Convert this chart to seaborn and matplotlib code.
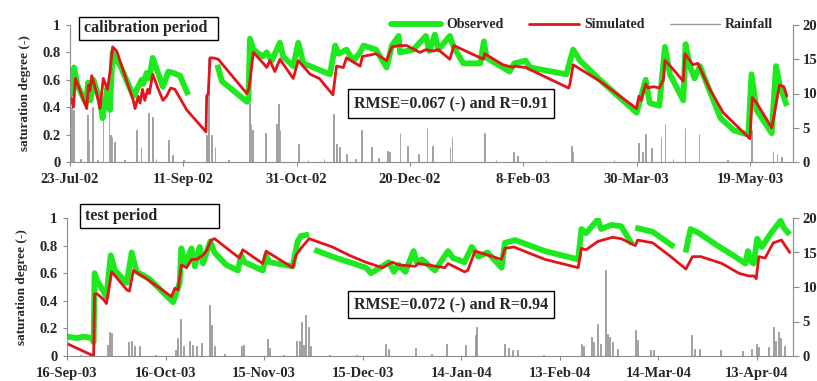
import numpy as np
import pandas as pd
import matplotlib
matplotlib.use("Agg")
import matplotlib.pyplot as plt
from matplotlib.lines import Line2D
from matplotlib.patches import Rectangle
import seaborn as sns

# ---------------- data (day offsets from period start) ----------------
cal_start = "2002-07-23"
test_start = "2003-09-16"

cal_sim_day = [0.4, 1.5, 2.4, 7.4, 8.1, 8.8, 9.6, 11.8, 13.2, 14.7, 16.5, 17.6, 18.8, 20.6, 27.9, 28.7,
               30.1, 30.9, 32, 33, 34.3, 35, 36.5, 39, 41, 42.6, 44.4, 46.3, 51.5, 60, 60.3, 61, 61.8,
               63.2, 65.4, 78, 79, 80.9, 85.3, 86.8, 88.2, 90.4, 92.6, 98.5, 100.7, 106, 110, 116,
               117.6, 120.6, 122, 128, 129, 135, 139.7, 142, 145.6, 148.5, 154.4, 157, 160, 162.5,
               167.6, 169.4, 182.4, 183, 191, 195.6, 196, 201, 220, 220.6, 222, 233.8, 250, 251, 252,
               254, 255, 257.4, 260, 261.8, 262.5, 265.4, 270.6, 271.3, 274.9, 277, 282, 288.2, 300,
               301, 303, 309.6, 311, 313, 315, 316.3]
cal_sim = [0.47, 0.40, 0.61, 0.39, 0.56, 0.52, 0.63, 0.50, 0.39, 0.61, 0.53, 0.65, 0.84, 0.81, 0.45, 0.39,
           0.48, 0.43, 0.53, 0.45, 0.53, 0.50, 0.64, 0.53, 0.45, 0.48, 0.54, 0.53, 0.38, 0.22, 0.48, 0.50, 0.76,
           0.76, 0.75, 0.50, 0.54, 0.80, 0.72, 0.69, 0.74, 0.66, 0.75, 0.61, 0.74, 0.64, 0.61, 0.49,
           0.70, 0.69, 0.76, 0.70, 0.77, 0.79, 0.74, 0.84, 0.85, 0.85, 0.80, 0.82, 0.81, 0.82,
           0.75, 0.85, 0.75, 0.79, 0.71, 0.69, 0.70, 0.69, 0.54, 0.57, 0.71, 0.59, 0.39, 0.48, 0.45,
           0.57, 0.54, 0.55, 0.54, 0.60, 0.74, 0.69, 0.59, 0.79, 0.71, 0.72, 0.54, 0.36, 0.17,
           0.47, 0.43, 0.25, 0.37, 0.56, 0.55, 0.48]

cal_obs_day = [0.4, 1.8, 3.3, 7, 8, 9, 10.3, 13.2, 14.4, 15.6, 16.5, 17.6, 18.8, 19.8, 22, 28, 31.6, 32.3,
               33.8, 35, 36.5, 38.2, 41, 43.4, 45.6, 48.5, 52.2, np.nan,
               65, 67, 78, 78.7, 79.4, 80.9, 85, 86.8, 89, 92.6, 94, 98.5, 100.7, 103, 114.7, 117,
               118.5, 122, 125, 128, 129.5, 135, 139.7, 142, 145, 145.6, 151.5, 157, 158.5, 161,
               162.5, 167.6, 169, 173.5, 181, 182.6, 183.8, 194, 196, 201, 203, 219, 222, 225, 233.8,
               250, 254, 255.8, 260, 262.5, 264.7, 270.6, 271.6, 273.5, 275.6, 277.9, 287, 293, 299.3,
               300.7, 302.9, 309.6, 311.5, 313.3, 316.3]
cal_obs = [0.48, 0.69, 0.56, 0.43, 0.58, 0.45, 0.60, 0.45, 0.32, 0.45, 0.54, 0.38, 0.80, 0.75, 0.71, 0.48, 0.60, 0.57,
           0.65, 0.61, 0.76, 0.68, 0.55, 0.66, 0.65, 0.63, 0.49, np.nan,
           0.71, 0.59, 0.44, 0.45, 0.90, 0.82, 0.77, 0.80, 0.74, 0.87, 0.77, 0.70, 0.87, 0.72, 0.64, 0.85,
           0.79, 0.82, 0.74, 0.80, 0.85, 0.82, 0.69, 0.85, 0.92, 0.80, 0.82, 0.92, 0.81, 0.93,
           0.82, 0.92, 0.85, 0.72, 0.72, 0.88, 0.76, 0.66, 0.72, 0.74, 0.69, 0.64, 0.82, 0.74, 0.60,
           0.36, 0.60, 0.43, 0.41, 0.84, 0.64, 0.45, 0.86, 0.70, 0.61, 0.70, 0.32, 0.23, 0.20,
           0.64, 0.38, 0.21, 0.70, 0.55, 0.41]

cal_rain_day = [0.7, 1.6, 4.5, 7.8, 8.4, 9.9, 12, 14.6, 17.2, 17.9, 18.6, 19.6, 24, 29.4, 31.3, 34.6, 36.3,
                38, 43.4, 45.1, 50, 60.3, 61.2, 62.5, 64, 70, 79.2, 79.8, 80.6, 86.2, 91, 92, 92.6,
                100.7, 105, 112, 116.3, 117.6, 119, 122, 126, 128.7, 133, 136, 140, 141, 145.6, 149,
                153.7, 157.5, 160, 167.6, 168.5, 183, 188, 195.6, 197.5, 210, 221.3, 222, 240, 250.7,
                252.5, 253.9, 256.6, 260.7, 262.5, 266, 271.3, 277.5, 290, 300.7, 310.2, 312, 314]
cal_rain = [8.1, 7.6, 0.4, 6.9, 3.2, 8.1, 0.3, 6.1, 9.1, 3.9, 3.7, 2.9, 0.3, 4.6, 2.2, 7.1, 6.6,
            0.4, 3.2, 1.0, 0.3, 3.9, 15.2, 3.9, 2.2, 0.3, 8.6, 5.6, 4.6, 4.2, 5.6, 8.4, 4.7,
            2.7, 0.3, 0.4, 7.0, 2.7, 2.2, 1.2, 0.5, 4.7, 2.2, 0.6, 1.6, 1.5, 4.2, 2.4,
            1.2, 5.0, 2.4, 2.2, 3.6, 4.2, 0.3, 1.5, 0.9, 0.3, 2.3, 1.6, 0.3, 2.8,
            1.5, 4.1, 2.0, 3.6, 5.5, 0.4, 5.0, 4.1, 0.3, 4.6, 1.6, 1.2, 0.8]

test_sim_day = [0, 8.1, 8.4, 9.2, 11.1, 12, 13.6, 18.2, 19, 20.2, 22.2, 24.2, 31.8, 32.8, 33.8, 34.8, 36.4,
                37.9, 39.4, 41.4, 42.4, 43.9, 44.9, 52.5, 53.5, 59.6, 60.6, 68.7, 69.7, 71.2, 73.7, 80.8,
                85.9, 90.9, 96, 99, 101, 106, 107, 115, 116, 121, 122, 124.2, 132.3, 133.3, 136, 145.5,
                155.6, 156.6, 158, 161.6, 166, 168.7, 173, 173.7, 178.3, 183.8, 188.4, 190.4, 193, 199.4,
                204.5, 207.5, 209.2, 209.8, 210.6, 212.5, 215, 217.5, 220]
test_sim = [0.09, 0.0, 0.45, 0.45, 0.41, 0.38, 0.61, 0.48, 0.47, 0.62, 0.59, 0.56, 0.43, 0.49, 0.48, 0.66, 0.64,
            0.70, 0.70, 0.73, 0.76, 0.84, 0.85, 0.71, 0.77, 0.67, 0.76, 0.64, 0.73, 0.78, 0.85, 0.79,
            0.73, 0.68, 0.64, 0.68, 0.66, 0.65, 0.67, 0.64, 0.67, 0.61, 0.62, 0.76, 0.70, 0.78, 0.79, 0.70,
            0.64, 0.78, 0.77, 0.83, 0.86, 0.85, 0.80, 0.84, 0.82, 0.72, 0.63, 0.72, 0.72, 0.67,
            0.60, 0.58, 0.58, 0.56, 0.72, 0.71, 0.82, 0.84, 0.75]

test_obs_day = [0, 3, 5, 7.6, 8.1, 8.4, 9.1, 12, 13.3, 14.6, 18.2, 19.7, 21.2, 25, 32.3, 34.3, 34.8, 35.8,
                37.9, 38.9, 40.4, 41.4, 43.6, 44.9, 48.5, 52, 53, 54, 59.6, 60.6, 61.6, 68.7, 70.2, 71.2,
                73.7, np.nan, 75.3, 80.8, 91, 92.5, 96, 98, 99.5, 101, 103, 105.5, 106.5, 108, 112, 116,
                117.5, 121, 123.2, 125.2, 128, 132.3, 133.3, 136.4, 145.5, 155.6, 156.6, 158, 161.6,
                162.6, 165.7, 168.7, 172, np.nan, 173, 178.3, 184.8, np.nan, 188.3, 189.8, 192.4, 198,
                203.4, 206.5, 207.3, 208, 209, 210.1, 211.5, 214.6, 217.2, 218.2, 220]
test_obs = [0.14, 0.13, 0.14, 0.13, 0.10, 0.60, 0.55, 0.43, 0.73, 0.62, 0.53, 0.75, 0.61, 0.56, 0.39, 0.53, 0.78, 0.66,
            0.78, 0.65, 0.79, 0.67, 0.83, 0.75, 0.66, 0.62, 0.73, 0.68, 0.62, 0.73, 0.68, 0.65, 0.83, 0.87,
            0.88, np.nan, 0.77, 0.72, 0.64, 0.60, 0.65, 0.68, 0.61, 0.66, 0.61, 0.76, 0.68, 0.70, 0.62, 0.76,
            0.71, 0.68, 0.79, 0.72, 0.75, 0.64, 0.82, 0.84, 0.76, 0.70, 0.92, 0.89, 0.99,
            0.92, 0.95, 0.94, 0.81, np.nan, 0.93, 0.90, 0.79, np.nan, 0.75, 0.92, 0.89, 0.80,
            0.72, 0.67, 0.76, 0.69, 0.67, 0.85, 0.79, 0.90, 0.98, 0.93, 0.88]

test_rain_day = [4, 12.2, 13, 13.6, 18.8, 19.5, 20.4, 22, 27, 33, 33.6, 34.6, 35.5, 37.2, 38.2, 39.4, 41,
                 43.5, 44.1, 45, 48, 53.1, 53.8, 60.9, 61.5, 66, 70, 70.7, 71.4, 72, 72.7, 73.4, 74, 80,
                 88, 97, 97.8, 106, 111, 115.5, 121.2, 124.3, 124.8, 133.3, 134.3, 135.5, 137, 145,
                 156.6, 157.3, 159.6, 160.4, 161.6, 162.3, 163.9, 164.6, 165.1, 166, 167.5, 173.2, 173.8,
                 177.5, 178.5, 190, 191, 192.5, 199, 205.6, 208.5, 209.8, 210.5, 213.5, 215, 215.8,
                 216.7, 217.3, 218.5]
test_rain = [0.2, 1.6, 3.5, 3.3, 2.0, 2.2, 1.4, 1.4, 0.2, 0.9, 2.6, 5.4, 1.5, 2.2, 1.6, 1.5, 1.9,
             7.4, 4.5, 1.5, 0.3, 1.4, 1.6, 2.5, 1.2, 0.2, 2.2, 2.2, 4.9, 1.6, 5.9, 4.2, 1.4, 0.2,
             0.2, 1.7, 1.0, 1.1, 0.3, 1.8, 1.6, 3.0, 4.2, 1.8, 1.1, 0.9, 0.9, 0.2,
             1.8, 1.5, 2.7, 2.0, 4.7, 1.8, 12.4, 3.2, 2.8, 2.0, 1.0, 3.7, 2.3,
             0.8, 0.8, 3.0, 1.0, 1.0, 0.8, 0.7, 1.0, 1.8, 1.3, 1.3, 4.2, 2.2,
             3.5, 2.6, 1.5]

cal_ticks = ["23-Jul-02", "11-Sep-02", "31-Oct-02", "20-Dec-02", "8-Feb-03", "30-Mar-03", "19-May-03"]
test_ticks = ["16-Sep-03", "16-Oct-03", "15-Nov-03", "15-Dec-03", "14-Jan-04", "13-Feb-04",
              "14-Mar-04", "13-Apr-04"]
cal_end = "2003-06-07"
test_end = "2004-04-24"
cal_text = "calibration period"
test_text = "test period"
cal_stats = "RMSE=0.067 (-) and R=0.91"
test_stats = "RMSE=0.072 (-) and R=0.94"

# ---------------- styling ----------------
sns.set_theme(style="white")
plt.rcParams["font.family"] = ["Liberation Serif", "DejaVu Serif"]
plt.rcParams["font.weight"] = "bold"

GREEN = "#1ee81e"
RED = "#e3141b"
GRAY = "#9a9a9a"
AX_GRAY = "#8c8c8c"
TICK_FS = 10.5

fig = plt.figure(figsize=(8.17, 3.81), dpi=100)
W, H = 817.0, 381.0


def fig_rect(x0, y0, x1, y1):
    return [x0 / W, 1 - y1 / H, (x1 - x0) / W, (y1 - y0) / H]


def to_dates(start, days):
    return pd.Timestamp(start) + pd.to_timedelta(np.asarray(days, dtype=float), unit="D")


def segments(days, vals):
    segs, cur_d, cur_v = [], [], []
    for d, v in zip(days, vals):
        if np.isnan(d) or np.isnan(v):
            if cur_d:
                segs.append((cur_d, cur_v))
            cur_d, cur_v = [], []
        else:
            cur_d.append(d)
            cur_v.append(v)
    if cur_d:
        segs.append((cur_d, cur_v))
    return segs


def panel(rect, start, end, obs_day, obs, sim_day, sim, rain_day, rain, tick_labels,
          tick_step, label_text, stats_text, label_box, stats_box, legend=False):
    ax = fig.add_axes(fig_rect(*rect))
    ax2 = ax.twinx()
    ax.set_zorder(ax2.get_zorder() + 1)
    ax.patch.set_visible(False)

    rd = to_dates(start, rain_day)
    ax2.bar(rd, rain, width=0.3, color=GRAY, linewidth=0.6, edgecolor=GRAY)

    for d, v in segments(obs_day, obs):
        sns.lineplot(x=to_dates(start, d), y=v, ax=ax, color=GREEN, linewidth=4.2,
                     estimator=None, sort=False, solid_capstyle="butt")
    sns.lineplot(x=to_dates(start, sim_day), y=sim, ax=ax, color=RED, linewidth=2.0,
                 estimator=None, sort=False)

    x0 = pd.Timestamp(start)
    ax.set_xlim(x0, pd.Timestamp(end))
    ax.set_ylim(0, 1)
    ax2.set_ylim(0, 20)
    ticks = [x0 + pd.Timedelta(days=tick_step * i) for i in range(len(tick_labels))]
    ax.set_xticks(ticks)
    ax.set_xticklabels(tick_labels, fontsize=TICK_FS, fontweight="bold")
    ax.set_yticks([0, 0.2, 0.4, 0.6, 0.8, 1])
    ax.set_yticklabels(["0", "0.2", "0.4", "0.6", "0.8", "1"], fontsize=TICK_FS, fontweight="bold")
    ax2.set_yticks([0, 5, 10, 15, 20])
    ax2.set_yticklabels(["0", "5", "10", "15", "20"], fontsize=TICK_FS, fontweight="bold")
    ax.set_ylabel("saturation degree (-)", fontsize=9.5, fontweight="bold", labelpad=8)
    ax.set_xlabel("")

    for a in (ax, ax2):
        a.spines["top"].set_visible(False)
        for s in ("left", "right", "bottom"):
            a.spines[s].set_color(AX_GRAY)
            a.spines[s].set_linewidth(0.8)
    ax.spines["right"].set_visible(False)
    ax2.spines["left"].set_visible(False)
    ax2.spines["bottom"].set_visible(False)
    ax.tick_params(axis="y", which="both", left=True, length=3, width=0.8, color=AX_GRAY, pad=4)
    ax.tick_params(axis="x", which="both", bottom=True, length=3, width=0.8, color=AX_GRAY, pad=5)
    ax2.tick_params(axis="y", which="both", right=True, length=4, width=0.8, color=AX_GRAY, pad=3)

    # period label box
    bx0, by0, bx1, by1 = label_box
    fig.patches.append(Rectangle((bx0 / W, 1 - by1 / H), (bx1 - bx0) / W, (by1 - by0) / H,
                                 transform=fig.transFigure, facecolor="white",
                                 edgecolor="black", linewidth=1.0, zorder=5))
    fig.text((bx0 + 5) / W, 1 - ((by0 + by1) / 2) / H, label_text, fontsize=11.5,
             fontweight="bold", va="center", ha="left", zorder=6)

    sx0, sy0, sx1, sy1 = stats_box
    fig.patches.append(Rectangle((sx0 / W, 1 - sy1 / H), (sx1 - sx0) / W, (sy1 - sy0) / H,
                                 transform=fig.transFigure, facecolor="white",
                                 edgecolor="black", linewidth=1.0, zorder=5))
    fig.text(((sx0 + sx1) / 2) / W, 1 - ((sy0 + sy1) / 2) / H, stats_text, fontsize=11.5,
             fontweight="bold", va="center", ha="center", zorder=6)

    if legend:
        handles = [Line2D([], [], color=GREEN, linewidth=4.2),
                   Line2D([], [], color=RED, linewidth=2.0),
                   Line2D([], [], color=GRAY, linewidth=1.0)]
        ax.legend(handles, ["Observed", "Simulated", "Rainfall"], ncol=3, loc="center right",
                  bbox_to_anchor=(0.99, 1.0), frameon=False, handlelength=3.6,
                  columnspacing=1.8, handletextpad=0.4,
                  prop={"weight": "bold", "size": 10})
    return ax


panel((70, 25, 793, 162), cal_start, cal_end, cal_obs_day, cal_obs, cal_sim_day, cal_sim,
      cal_rain_day, cal_rain, cal_ticks, 50, cal_text, cal_stats,
      (79, 17, 218, 40), (348, 89, 554, 118), legend=True)
panel((67, 218, 793, 356), test_start, test_end, test_obs_day, test_obs, test_sim_day, test_sim,
      test_rain_day, test_rain, test_ticks, 30, test_text, test_stats,
      (80, 204, 219, 228), (348, 291, 554, 318))

fig.savefig("out.png", dpi=100)
